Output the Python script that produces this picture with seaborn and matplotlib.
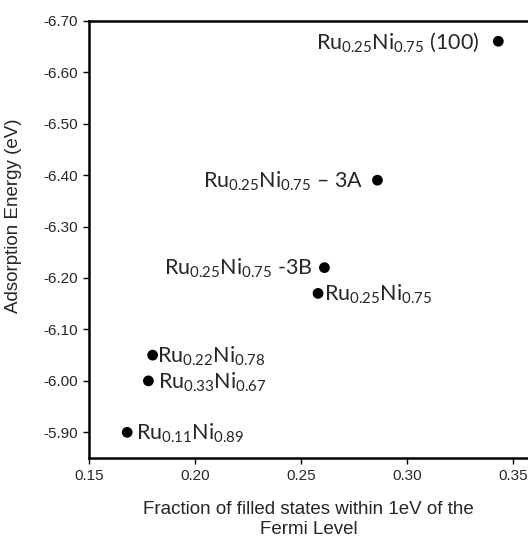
import pandas as pd
import matplotlib.pyplot as plt
import seaborn as sns

# values
fraction = [0.343, 0.286, 0.261, 0.258, 0.180, 0.178, 0.168]
energy = [-6.66, -6.39, -6.22, -6.17, -6.05, -6.00, -5.90]
names = [r'Ru$_\mathrm{0.25}$Ni$_\mathrm{0.75}$ (100)',
         r'Ru$_\mathrm{0.25}$Ni$_\mathrm{0.75}$ – 3A',
         r'Ru$_\mathrm{0.25}$Ni$_\mathrm{0.75}$ -3B',
         r'Ru$_\mathrm{0.25}$Ni$_\mathrm{0.75}$',
         r'Ru$_\mathrm{0.22}$Ni$_\mathrm{0.78}$',
         r'Ru$_\mathrm{0.33}$Ni$_\mathrm{0.67}$',
         r'Ru$_\mathrm{0.11}$Ni$_\mathrm{0.89}$']
xticks = [0.15, 0.20, 0.25, 0.30, 0.35]
yticks = [-6.70, -6.60, -6.50, -6.40, -6.30, -6.20, -6.10, -6.00, -5.90]

df = pd.DataFrame({'x': fraction, 'y': energy, 'name': names})

sns.set_style('white')
plt.rcParams['font.family'] = ['Liberation Sans', 'DejaVu Sans']
plt.rcParams['mathtext.fontset'] = 'custom'
plt.rcParams['mathtext.rm'] = 'Lato'
plt.rcParams['mathtext.it'] = 'Lato:italic'

fig = plt.figure(figsize=(5.28, 5.37), dpi=100)
ax = fig.add_axes([0.1686, 0.147, 0.8314, 0.8145])
sns.scatterplot(data=df, x='x', y='y', ax=ax, color='black', s=60,
                edgecolor='none', legend=False)

# label offsets (points) and alignment
offs = [(-13.5, 'right'), (-10, 'right'), (-8.5, 'right'), (4, 'left'),
        (3, 'left'), (7, 'left'), (6, 'left')]
for (x, y, n), (dx, ha) in zip(zip(fraction, energy, names), offs):
    ax.annotate(n, (x, y), xytext=(dx, -5.3), textcoords='offset points',
                ha=ha, va='baseline', fontsize=15.5, family='Lato')

ax.set_xlim(0.15, 0.357)
ax.set_ylim(-5.85, -6.70)
ax.set_xticks(xticks)
ax.set_yticks(yticks)
ax.set_xticklabels([f'{v:.2f}' for v in xticks], fontsize=11)
ax.set_yticklabels([f'{v:.2f}' for v in yticks], fontsize=11)
ax.tick_params(direction='out', length=4, width=1, color='black', pad=4,
               bottom=True, left=True)
for side in ['left', 'bottom', 'top']:
    ax.spines[side].set_linewidth(1.8)
    ax.spines[side].set_color('black')
ax.spines['right'].set_visible(False)

ax.set_xlabel('Fraction of filled states within 1eV of the\nFermi Level',
              fontsize=13.5, labelpad=13, linespacing=1.25)
ax.set_ylabel('Adsorption Energy (eV)', fontsize=13.5)
ax.yaxis.set_label_coords(-0.152, 0.555)

plt.savefig('out.png', dpi=100)
